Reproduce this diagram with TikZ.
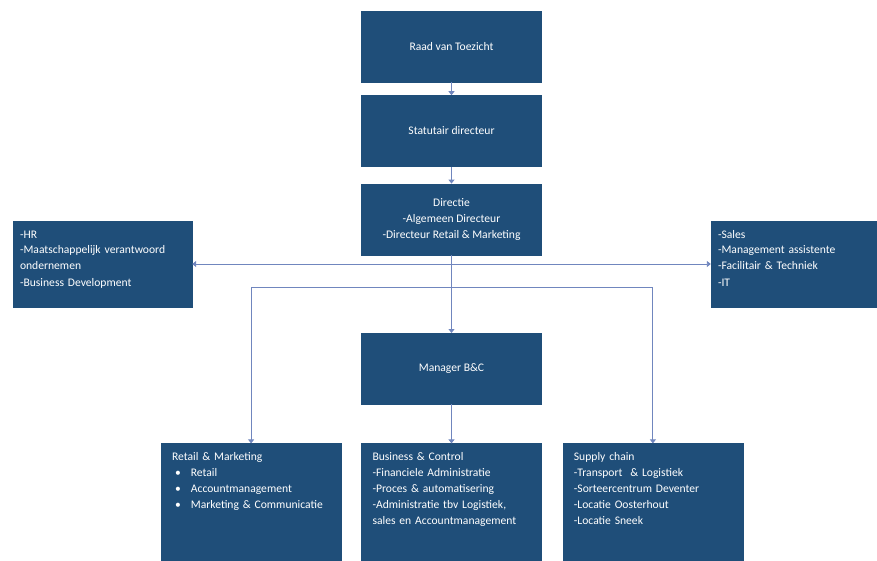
\documentclass[tikz,border=0pt]{standalone}
\usepackage{fontspec}
\setmainfont{Carlito}
\usepackage{xcolor}
\usepackage{tikz}
\usetikzlibrary{arrows.meta,positioning,calc}

\definecolor{boxblue}{RGB}{31,78,121}
\definecolor{linkblue}{RGB}{112,134,190}

\begin{document}
\begin{tikzpicture}[
    x=1pt, y=-1pt,
    every node/.style={font=\fontsize{11.6}{16}\selectfont, text=white},
    box/.style={rectangle, fill=boxblue, draw=boxblue, minimum width=180pt, minimum height=71pt, inner sep=0pt, align=center},
    listbox/.style={rectangle, fill=boxblue, draw=boxblue, align=left, inner xsep=11pt, inner ysep=10pt, text width=158pt, text height=7pt, text depth=93pt},
    sidebox/.style={listbox, inner xsep=7pt, text depth=59pt},
    conn/.style={-{Triangle[width=6pt,length=4pt]}, draw=linkblue, line width=0.9pt}
]
    \useasboundingbox [fill=white] (0,0) rectangle (877,561);

    % top of the chart
    \node [box] (raad) at (451.5,46.5) {Raad van Toezicht};
    \node [box, below=13pt of raad] (statutair) {Statutair directeur};
    \node [box, below=17pt of statutair] (directie) {Directie\\-Algemeen Directeur\\-Directeur Retail \& Marketing};
    \node [box, below=78pt of directie] (manager) {Manager B\&C};

    % staff boxes at the sides
    \node [sidebox, text width=165pt] (staffleft) at (102.5,264) {-HR\\-Maatschappelijk verantwoord\\ondernemen\\-Business Development};
    \node [sidebox, text width=152pt] (staffright) at (794,264) {-Sales\\-Management assistente\\-Facilitair \& Techniek\\-IT};

    % departments
    \node [listbox, anchor=north, below=39pt of manager] (business) {Business \& Control\\-Financiele Administratie\\-Proces \& automatisering\\-Administratie tbv Logistiek,\\sales en Accountmanagement};
    \node [listbox, left=20pt of business] (retail) {Retail \& Marketing\\\hspace*{3pt}\textbullet\hspace{10pt}Retail\\\hspace*{3pt}\textbullet\hspace{10pt}Accountmanagement\\\hspace*{3pt}\textbullet\hspace{10pt}Marketing \& Communicatie};
    \node [listbox, right=21pt of business] (supply) {Supply chain\\-Transport~ \& Logistiek\\-Sorteercentrum Deventer\\-Locatie Oosterhout\\-Locatie Sneek};

    \coordinate (split) at ([yshift=-32pt]directie.south);

    % Relationships
    \draw [conn] (raad) -- (statutair);
    \draw [conn] (statutair) -- (directie);
    \draw [conn] (directie.south) |- (staffleft.east);
    \draw [conn] (directie.south) |- (staffright.west);
    \draw [conn] (directie) -- (manager);
    \draw [conn] (split) -| (retail.north);
    \draw [conn] (split) -| (supply.north);
    \draw [conn] (manager) -- (business);

\end{tikzpicture}
\end{document}
